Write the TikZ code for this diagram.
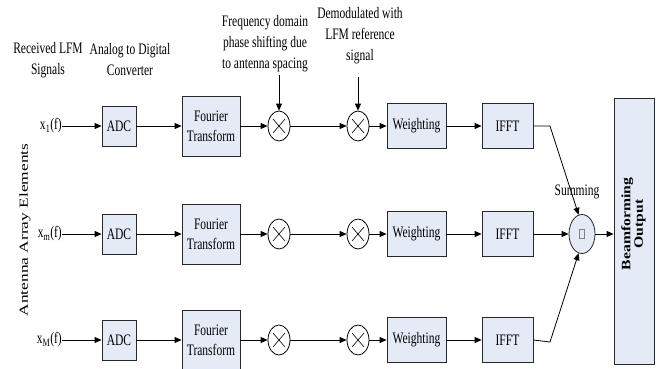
\documentclass[tikz,border=0pt]{standalone}
\usepackage{fontspec}
\setmainfont{Liberation Serif}
\newfontfamily\narrow[FakeStretch=0.72]{Liberation Serif}
\usetikzlibrary{shapes.geometric,arrows.meta}
\definecolor{boxfill}{RGB}{228,234,246}
\definecolor{edge}{RGB}{40,40,40}

\tikzset{
  blk/.style={draw=edge, line width=0.8pt, fill=boxfill, inner sep=0pt, align=center,
    font=\narrow\fontsize{16}{20}\selectfont},
  mult/.style={ellipse, draw=black, line width=0.8pt, fill=white,
    minimum width=22pt, minimum height=30pt, inner sep=0pt},
  lbl/.style={align=center, inner sep=0pt, font=\narrow\fontsize{16}{21}\selectfont},
  sig/.style={line width=0.8pt, -{Triangle[length=7pt,width=6pt]}},
  cross/.style={line width=0.6pt},
}

\begin{document}
\begin{tikzpicture}[x=1pt, y=-1pt]
\useasboundingbox (0,0) rectangle (661,368);

% three antenna channels
\foreach \r/\yy/\s in {1/126/1, 2/234/m, 3/340/M} {
  \node[lbl, anchor=east] (x\r) at (62,\yy) {x\textsubscript{\s}(f)};
  \node[blk, minimum width=34pt, minimum height=40pt] (adc\r) at (119,\yy) {ADC};
  \node[blk, minimum width=58pt, minimum height=60pt] (ft\r) at (211,\yy) {Fourier\\Transform};
  \node[mult] (ma\r) at (279,\yy) {};
  \node[mult] (mb\r) at (358,\yy) {};
  \node[blk, minimum width=59pt, minimum height=45pt] (wt\r) at (416.5,\yy) {Weighting};
  \node[blk, minimum width=51pt, minimum height=45pt] (if\r) at (507.5,\yy) {IFFT};
  \draw[cross] ([shift={(-6,-7)}]ma\r.center) -- ([shift={(6,7)}]ma\r.center)
               ([shift={(-6,7)}]ma\r.center) -- ([shift={(6,-7)}]ma\r.center);
  \draw[cross] ([shift={(-6,-7)}]mb\r.center) -- ([shift={(6,7)}]mb\r.center)
               ([shift={(-6,7)}]mb\r.center) -- ([shift={(6,-7)}]mb\r.center);
  \draw[sig] (x\r) -- (adc\r);
  \draw[sig] (adc\r) -- (ft\r);
  \draw[sig] (ft\r) -- (ma\r);
  \draw[sig] (ma\r) -- (mb\r);
  \draw[sig] (mb\r) -- (wt\r);
  \draw[sig] (wt\r) -- (if\r);
}

% summing junction and output
\node[ellipse, draw=edge, line width=0.8pt, fill=boxfill, minimum width=26pt,
  minimum height=39pt, inner sep=0pt] (sum) at (582,234) {};
\draw[gray, line width=0.5pt] ([shift={(-2.5,-4.5)}]sum.center) rectangle ([shift={(2.5,4.5)}]sum.center);
\node[blk, minimum width=40pt, minimum height=266pt] (bf) at (634,231) {};
\node[rotate=90, inner sep=0pt, font=\bfseries\fontsize{16}{15.5}\selectfont] (bft) at (634,224)
  {\scalebox{0.98}[0.8]{\begin{tabular}{@{}c@{}}Beamforming\\Output\end{tabular}}};

\coordinate (k1) at (550,126);
\coordinate (k3) at (550,342);
\draw[sig] (if1.east) -- (k1) -- (sum.100);
\draw[sig] (if2) -- (sum);
\draw[sig] (if3.east) -- (k3) -- (sum.260);
\draw[sig] (sum) -- (sum -| bf.west);
\node[lbl] (summ) at (577,192) {Summing};

% side and top captions
\node[rotate=90, inner sep=0pt, font=\fontsize{15}{18}\selectfont] (ant) at (25,230)
  {\scalebox{1.16}[0.82]{Antenna Array Elements}};
\node[lbl] (recv) at (48,60) {Received LFM\\Signals};
\node[lbl] (adcl) at (130,60) {Analog to Digital\\Converter};
\node[lbl] (freq) at (265,44) {Frequency domain\\phase shifting due\\to antenna spacing};
\node[lbl] (demod) at (360,36) {Demodulated with\\LFM reference\\signal};
\coordinate (fa) at (279,75);
\coordinate (da) at (358,77);
\draw[sig] (fa) -- (ma1);
\draw[sig] (da) -- (mb1);
\end{tikzpicture}
\end{document}
